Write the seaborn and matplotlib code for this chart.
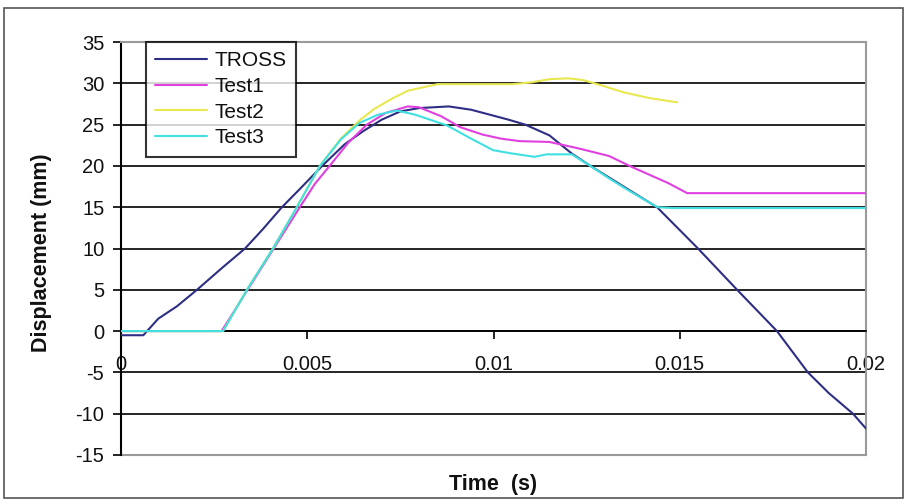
import matplotlib
matplotlib.use("Agg")
import matplotlib.pyplot as plt
import seaborn as sns
import pandas as pd
from matplotlib.patches import Rectangle

# ---- data ----
tross_t = [0, 0.0006, 0.001, 0.0015, 0.00204, 0.0027, 0.00333, 0.0038, 0.00432, 0.0048,
           0.0054, 0.006, 0.0065, 0.0070, 0.0075, 0.0080, 0.0088, 0.0094, 0.0099, 0.0104,
           0.01085, 0.0115, 0.0121, 0.0126, 0.0131, 0.0136, 0.01439, 0.01549, 0.01654,
           0.01761, 0.01844, 0.0190, 0.01965, 0.0200]
tross_y = [-0.5, -0.5, 1.5, 3.0, 5.0, 7.6, 10.0, 12.3, 15.0, 17.2,
           20.0, 22.6, 24.2, 25.6, 26.6, 27.0, 27.2, 26.8, 26.2, 25.6,
           25.0, 23.7, 21.5, 20.0, 18.6, 17.2, 15.0, 10.0, 5.0,
           0.0, -5.0, -7.5, -10.0, -11.8]

test1_t = [0, 0.0027, 0.0034, 0.0041, 0.0048, 0.0052, 0.0056, 0.0061, 0.0066, 0.0071,
           0.0077, 0.0080, 0.0086, 0.0091, 0.0097, 0.0102, 0.0107, 0.0115, 0.0123, 0.0131,
           0.0137, 0.0142, 0.0147, 0.0152, 0.0200]
test1_y = [0, 0, 5, 10, 15, 17.8, 20.0, 22.8, 25.0, 26.4,
           27.2, 27.1, 26.0, 24.7, 23.8, 23.3, 23.0, 22.9, 22.1, 21.2,
           19.9, 18.9, 17.9, 16.7, 16.7]

test2_t = [0, 0.00274, 0.00338, 0.00408, 0.00472, 0.00534, 0.0059, 0.0064, 0.0068, 0.0073,
           0.0077, 0.0085, 0.0095, 0.0105, 0.0110, 0.0115, 0.0120, 0.0124, 0.01286, 0.0135,
           0.0142, 0.01493]
test2_y = [0, 0, 5, 10, 15, 20, 23.3, 25.5, 26.9, 28.2,
           29.1, 29.9, 29.9, 29.9, 30.1, 30.5, 30.6, 30.4, 29.8, 28.9,
           28.2, 27.7]

test3_t = [0, 0.00274, 0.00338, 0.00408, 0.00472, 0.00534, 0.0059, 0.0064, 0.0069, 0.0074,
           0.0079, 0.00875, 0.0094, 0.00999, 0.0105, 0.0111, 0.01143, 0.0121, 0.0126, 0.0131,
           0.0136, 0.0144, 0.0148, 0.0200]
test3_y = [0, 0, 5, 10, 15, 20, 23.2, 25.2, 26.2, 26.7,
           26.2, 24.9, 23.3, 21.9, 21.5, 21.1, 21.4, 21.4, 20.0, 18.5,
           17.1, 15.0, 14.9, 14.9]

series_names = ["TROSS", "Test1", "Test2", "Test3"]
x_ticks = [0, 0.005, 0.01, 0.015, 0.02]
x_tick_labels = ["0", "0.005", "0.01", "0.015", "0.02"]
y_ticks = [-15, -10, -5, 0, 5, 10, 15, 20, 25, 30, 35]

# ---- build long-form table ----
frames = []
for name, t, y in zip(series_names, [tross_t, test1_t, test2_t, test3_t],
                      [tross_y, test1_y, test2_y, test3_y]):
    frames.append(pd.DataFrame({"Time": t, "Displacement": y, "Series": name}))
df = pd.concat(frames, ignore_index=True)

sns.set_theme(style="white")
plt.rcParams["font.family"] = ["Liberation Sans", "DejaVu Sans"]
plt.rcParams["axes.unicode_minus"] = False
for k in ["text.color", "axes.labelcolor", "xtick.color", "ytick.color"]:
    plt.rcParams[k] = "#111111"

fig = plt.figure(figsize=(9.06, 5.04), dpi=100)
ax = fig.add_axes([121/906, 1 - 455/504, (866-121)/906, (455-42)/504])

palette = {"TROSS": "#2e2e84", "Test1": "#e040e0", "Test2": "#e8e850", "Test3": "#40e0e0"}
sns.lineplot(data=df, x="Time", y="Displacement", hue="Series", hue_order=series_names,
             palette=palette, sort=False, estimator=None, units="Series",
             linewidth=1.5, ax=ax, zorder=3)

ax.set_xlim(0, 0.02)
ax.set_ylim(-15, 35)
ax.set_xticks(x_ticks)
ax.set_xticklabels(x_tick_labels)
ax.set_yticks(y_ticks)

# horizontal grid lines (black) at inner ticks
for v in y_ticks[1:-1]:
    ax.axhline(v, color="black", lw=1.2, zorder=1)
ax.axhline(-15, color="#9a9a9a", lw=1.5, zorder=1, clip_on=False)

# spines
ax.spines["left"].set_color("black")
ax.spines["left"].set_linewidth(1.5)
ax.spines["bottom"].set_position(("data", 0))
ax.spines["bottom"].set_color("black")
ax.spines["bottom"].set_linewidth(1.2)
for s in ["top", "right"]:
    ax.spines[s].set_color("#9a9a9a")
    ax.spines[s].set_linewidth(1.5)

ax.tick_params(axis="x", direction="out", length=6, width=1.2, color="black",
               pad=11, labelsize=14.5, bottom=True)
ax.tick_params(axis="y", direction="out", length=6, width=1.2, color="black",
               pad=6, labelsize=14.5, left=True)

ax.set_xlabel("Time  (s)", fontsize=15.5, fontweight="bold")
ax.set_ylabel("Displacement (mm)", fontsize=15.5, fontweight="bold")
ax.xaxis.set_label_coords(0.5, -0.045)
ax.yaxis.set_label_coords(-0.092, 0.49)

leg = ax.legend(loc="upper left", bbox_to_anchor=(0.0336, 1.0), borderaxespad=0,
                frameon=True, fancybox=False, edgecolor="black", fontsize=15,
                handlelength=2.5, handletextpad=0.35, labelspacing=0.32,
                borderpad=0.45, title=None)
leg.get_frame().set_linewidth(1.5)
leg.set_zorder(5)

# outer figure border
fig.patches.append(Rectangle((4/906, 1 - 498/504), (903-4)/906, (498-8)/504,
                             transform=fig.transFigure, fill=False,
                             edgecolor="#555555", lw=1.2))

fig.savefig("out.png", dpi=100)
